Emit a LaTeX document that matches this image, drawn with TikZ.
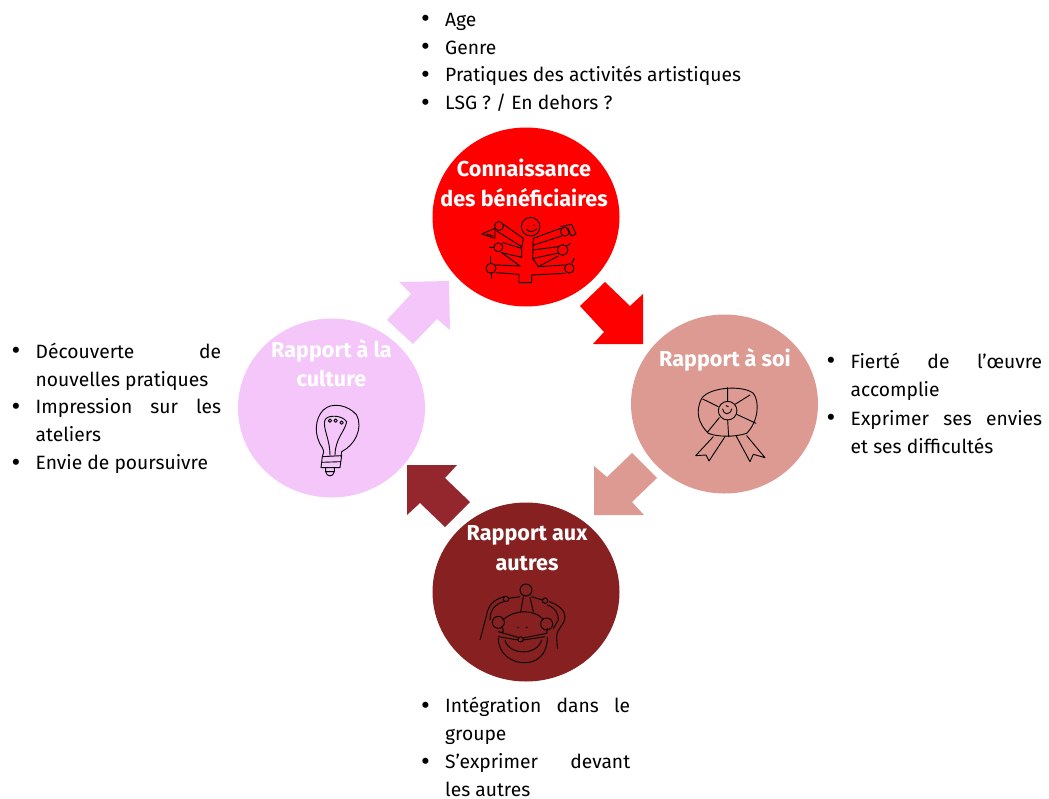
\documentclass[tikz,border=0pt]{standalone}
\usepackage{fontspec}
\setmainfont{Fira Sans}
\usetikzlibrary{shapes.geometric}
\definecolor{rougevif}{HTML}{FF0000}
\definecolor{saumon}{HTML}{DD9A93}
\definecolor{bordeaux}{HTML}{872121}
\definecolor{bordeauxclair}{HTML}{93272D}
\definecolor{rosepale}{HTML}{F4C6F9}
\newcommand{\puce}[1]{\par\noindent\hangindent=20pt\hangafter=1\makebox[20pt][l]{\hspace{-4pt}\smash{\raisebox{-1.5pt}{\fontsize{27}{27}\selectfont\textbullet}}}#1\par}
\tikzset{
	rond/.style={ellipse, minimum width=187pt, minimum height=179pt, inner sep=0pt},
	titre/.style={text=white, font=\fontsize{21.6}{29.5}\selectfont\bfseries, align=center},
	liste/.style={anchor=north west, inner sep=0pt, align=justify, font=\fontsize{19.25}{#1}\selectfont},
	liste/.default=27.9,
	dessin/.style={draw=black, line width=0.9pt, line cap=round, line join=round},
	vue/.style={x=0.3333pt, y=-0.3333pt}
}
\begin{document}
\begin{tikzpicture}[x=1pt,y=-1pt]
	\useasboundingbox (0,0) rectangle (1049,798);
	
	% Circles
	\node[rond, fill=rougevif] (connaissance) at (526,217) {};
	\node[rond, fill=saumon] (soi) at (724.5,404) {};
	\node[rond, fill=bordeaux] (autres) at (526,592) {};
	\node[rond, fill=rosepale] (culture) at (331.5,408) {};
	
	% Titles
	\node[titre] (t connaissance) at (524,183) {Connaissance\\des bénéficiaires};
	\node[titre] (t soi) at (725,360) {Rapport à soi};
	\node[titre] (t autres) at (527,548) {Rapport aux\\autres};
	\node[titre] (t culture) at (331.5,363) {Rapport à la\\culture};
	
	% Block arrows
	\fill[rougevif] (605,282) -- (630,306) -- (643,294) -- (643,344) -- (593,344) -- (604,332) -- (580,306) -- cycle;
	\fill[saumon] (632,453) -- (657,478) -- (632,502) -- (644,515) -- (594,515) -- (594,466) -- (607,477) -- cycle;
	\fill[bordeauxclair] (407,465) -- (457,465) -- (445,478) -- (470,502) -- (445,527) -- (420,503) -- (407,515) -- cycle;
	\fill[rosepale] (399,282) -- (449,281) -- (450,330) -- (437,319) -- (413,344) -- (387,320) -- (411,294) -- cycle;
	
	% Tree icon
	\begin{scope}[shift={(430,130)}, vue, every path/.append style={line width=1.05pt}]
		\draw[dessin] (302,290) circle[radius=9.3pt];
		\draw[dessin] (292,288) -- (296,288) (310,286) -- (314,286) (290,298) .. controls (298,308) and (312,306) .. (320,296);
		\draw[dessin] (207,288) circle[radius=4.5pt] (205,352) circle[radius=4.5pt] (183,415) circle[radius=5pt] (405,305) circle[radius=4.5pt] (398,360) circle[radius=5.3pt] (418,415) circle[radius=4.7pt];
		\draw[dessin] (220,283) -- (280,325) -- (275,355) -- (275,382) -- (215,368) (200,303) -- (275,350) (218,338) -- (275,355);
		\draw[dessin] (155,312) -- (195,295) -- (195,325) -- cycle (170,312) -- (190,318);
		\draw[dessin] (192,352) -- (178,352) (215,368) -- (270,408) -- (196,405) (198,428) -- (267,433) -- (267,458) -- (305,458) -- (305,435) -- (405,430);
		\draw[dessin] (181,378) -- (181,400) (183,430) -- (183,445);
		\draw[dessin] (310,325) -- (392,295) (312,345) -- (395,318) (310,325) -- (308,385) -- (325,410) -- (385,378) (308,360) -- (385,350) (310,385) -- (382,370);
		\draw[dessin] (392,290) -- (425,283) -- (438,312) -- (425,318) -- (410,295);
		\draw[dessin] (410,348) -- (422,340) (325,410) -- (405,405) (425,400) -- (433,385);
	\end{scope}
	
	% Rosette icon
	\begin{scope}[shift={(630,315)}, vue]
		\draw[dessin] (215,250) .. controls (240,215) and (340,210) .. (370,235) .. controls (390,260) and (385,320) .. (350,355) .. controls (310,368) and (260,365) .. (235,355) .. controls (205,325) and (195,290) .. (215,250) -- cycle;
		\draw[dessin] (293,287) circle[radius=9.3pt];
		\draw[dessin] (293,218) -- (293,260) (293,315) -- (296,365) (360,240) -- (315,268) (320,298) -- (378,325) (268,308) -- (232,352) (265,275) -- (218,252);
		\draw[dessin] (278,282) .. controls (280,300) and (300,302) .. (305,282) (288,272) -- (295,275);
		\draw[dessin] (250,365) -- (197,422) -- (228,420) -- (237,438) -- (285,365);
		\draw[dessin] (318,362) -- (360,440) -- (370,418) -- (405,428) -- (350,362);
	\end{scope}
	
	% Group icon
	\begin{scope}[shift={(430,500)}, vue]
		\draw[dessin] (288,270) circle[radius=6pt];
		\draw[dessin] (228,297) circle[radius=2.7pt] (345,302) circle[radius=2.7pt] (272,418) circle[radius=2.7pt];
		\draw[dessin] (270,290) -- (236,295) (305,290) -- (337,300) (280,290) -- (272,335) (300,292) -- (310,335);
		\draw[dessin] (222,290) .. controls (190,300) and (175,315) .. (170,345) -- (150,420);
		\draw[dessin] (222,305) .. controls (195,312) and (180,330) .. (180,360);
		\draw[dessin] (358,305) .. controls (385,315) and (405,330) .. (405,350) .. controls (405,375) and (380,385) .. (380,410) -- (382,445);
		\draw[dessin] (352,315) .. controls (380,325) and (385,345) .. (385,360) -- (370,385);
		\draw[dessin] (205,367) circle[radius=6pt] (350,372) circle[radius=6pt];
		\draw[dessin] (218,360) .. controls (250,330) and (310,325) .. (340,358);
		\draw[dessin] (215,380) .. controls (225,395) and (220,400) .. (205,395) -- (264,412) (280,414) -- (350,400) -- (352,385);
		\draw[dessin] (262,382) -- (266,382) (288,382) -- (292,382);
		\draw[dessin] (205,410) -- (264,420) (280,420) -- (345,410);
		\draw[dessin] (205,415) .. controls (205,465) and (250,490) .. (285,488) .. controls (320,488) and (352,465) .. (352,412);
		\draw[dessin] (225,420) .. controls (235,465) and (320,470) .. (335,420);
	\end{scope}
	
	% Bulb icon
	\begin{scope}[shift={(235,315)}, vue]
		\draw[dessin] (262,398) .. controls (235,360) and (240,310) .. (265,285) .. controls (290,260) and (340,270) .. (365,300) .. controls (385,340) and (360,390) .. (320,410) -- (318,425);
		\draw[dessin] (262,398) .. controls (268,410) and (266,415) .. (262,425);
		\draw[dessin] (285,422) .. controls (285,370) and (262,340) .. (270,315) .. controls (275,300) and (320,298) .. (335,320) .. controls (330,350) and (300,370) .. (300,422);
		\draw[dessin] (285,317) circle[radius=1.7pt] (302,317) circle[radius=1.7pt] (320,323) circle[radius=1.7pt];
		\draw[dessin] (262,425) -- (320,422) -- (315,458) -- (258,458) -- (262,425) (260,442) -- (318,440);
		\draw[dessin] (272,458) -- (272,470) .. controls (275,487) and (295,487) .. (298,470) -- (298,458) (272,470) -- (298,470);
	\end{scope}
	
	% Lists
	\node[liste, text width=320pt] (l connaissance) at (425,-2) {
		\puce{Age}\puce{Genre}\puce{Pratiques des activités artistiques}\puce{LSG ? / En dehors ?}};
	\node[liste, text width=205.5pt] (l culture) at (15.5,330) {
		\puce{Découverte de\linebreak nouvelles pratiques}\puce{Impression sur les\linebreak ateliers}\puce{Envie de poursuivre}};
	\node[liste=28.5, text width=211.5pt] (l soi) at (830.5,339.5) {
		\puce{Fierté de l’œuvre\linebreak accomplie}\puce{Exprimer ses envies\linebreak et ses difficultés}};
	\node[liste=28, text width=205pt] (l autres) at (425,684.5) {
		\puce{Intégration dans le\linebreak groupe}\puce{S’exprimer devant\linebreak les autres}};
\end{tikzpicture}
\end{document}
